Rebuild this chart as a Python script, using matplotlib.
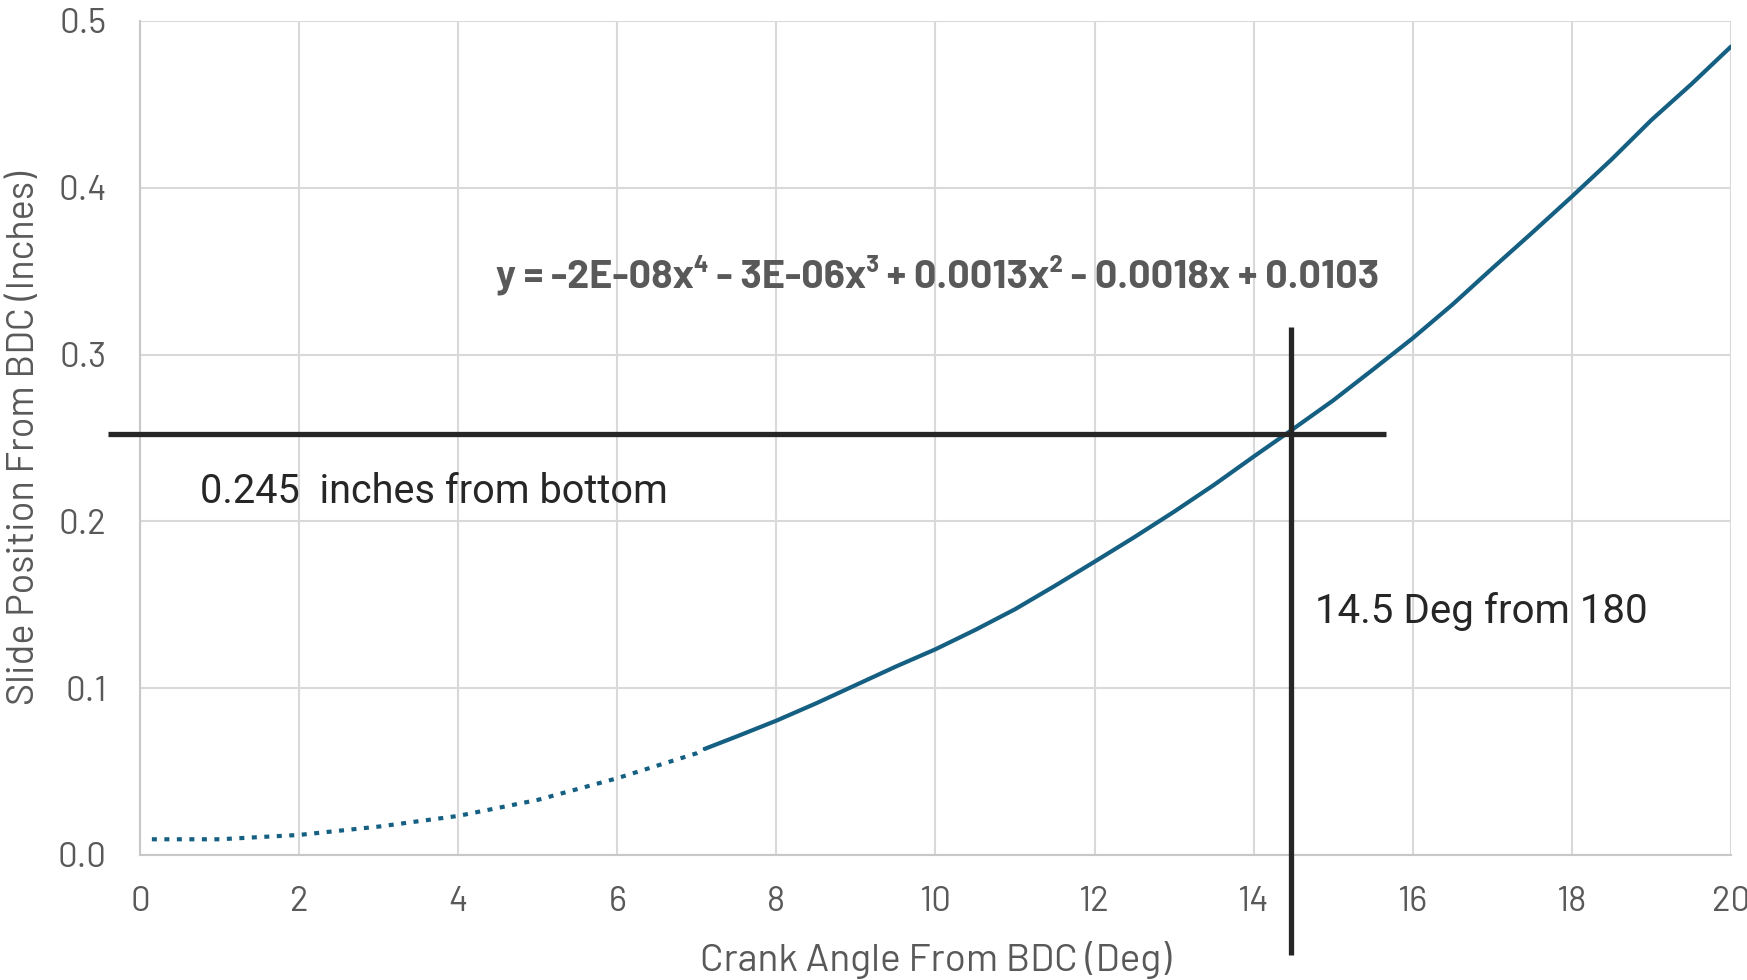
import matplotlib
matplotlib.use("Agg")
import matplotlib.pyplot as plt

# ---- data ----
trend_x = [0.15, 1, 2, 3, 4, 5, 6, 7, 7.1]
trend_y = [0.0094, 0.0094, 0.012, 0.017, 0.0234, 0.033, 0.046, 0.061, 0.0636]

data_x = [7.1, 7.5, 8, 8.5, 9, 9.5, 10, 10.5, 11, 11.5, 12, 12.5, 13, 13.5,
          14, 14.5, 15, 15.5, 16, 16.5, 17, 17.5, 18, 18.5, 19, 19.5, 20]
data_y = [0.0636, 0.071, 0.0805, 0.0909, 0.1019, 0.1129, 0.1233, 0.1349,
          0.1473, 0.1613, 0.1758, 0.1905, 0.2058, 0.2218, 0.2388, 0.2555,
          0.2725, 0.291, 0.3098, 0.330, 0.3517, 0.373, 0.3947, 0.417,
          0.4406, 0.462, 0.4846]

x_ticks = [0, 2, 4, 6, 8, 10, 12, 14, 16, 18, 20]
x_tick_labels = ["0", "2", "4", "6", "8", "10", "12", "14", "16", "18", "20"]
y_ticks = [0.0, 0.1, 0.2, 0.3, 0.4, 0.5]
y_tick_labels = ["0.0", "0.1", "0.2", "0.3", "0.4", "0.5"]

cross_x = 14.47
cross_y = 0.2524

equation = "y = -2E-08x\u2074 - 3E-06x\u00b3 + 0.0013x\u00b2 - 0.0018x + 0.0103"
note_y = "0.245  inches from bottom"
note_x = "14.5 Deg from 180"
xlabel = "Crank Angle From BDC (Deg)"
ylabel = "Slide Position From BDC (Inches)"

LINE_COLOR = "#156082"
GREY = "#595959"
DARK = "#262626"
NARROW = ["Barlow", "Barlow Semi Condensed", "Roboto Condensed", "DejaVu Sans"]
TEXTF = ["Roboto", "Lato", "DejaVu Sans"]

fig = plt.figure(figsize=(17.47, 9.8), dpi=100)
ax = fig.add_axes([0.0801, 0.1276, 0.9107, 0.851])

ax.plot(trend_x, trend_y, color=LINE_COLOR, lw=3, linestyle=(0, (1.2, 1.8)),
        solid_capstyle="butt", dash_capstyle="butt", zorder=3)
ax.plot(data_x, data_y, color=LINE_COLOR, lw=3, solid_capstyle="round", zorder=3)

ax.set_xlim(0, 20)
ax.set_ylim(0, 0.5)
ax.set_xticks(x_ticks)
ax.set_xticklabels(x_tick_labels)
ax.set_yticks(y_ticks)
ax.set_yticklabels(y_tick_labels)
ax.grid(True, color="#d9d9d9", lw=1.5, zorder=0)
ax.set_axisbelow(True)
for s in ["top", "right"]:
    ax.spines[s].set_visible(False)
for s in ["left", "bottom"]:
    ax.spines[s].set_color("#c8c8c8")
    ax.spines[s].set_linewidth(1.5)
ax.tick_params(length=0, labelsize=25, labelcolor=GREY)
ax.tick_params(axis="x", pad=22)
ax.tick_params(axis="y", pad=24)
for lab in ax.get_xticklabels() + ax.get_yticklabels():
    lab.set_fontfamily(NARROW)

ax.set_xlabel(xlabel, fontsize=28, color=GREY, family=NARROW, labelpad=17)
ax.set_ylabel(ylabel, fontsize=27.3, color=GREY, family=NARROW, labelpad=11)

# crosshair lines
ax.plot([-0.40, 15.67], [cross_y, cross_y], color=DARK, lw=3.8, clip_on=False,
        solid_capstyle="butt", zorder=4)
ax.plot([cross_x, cross_x], [0.3168, -0.06], color=DARK, lw=3.8, clip_on=False,
        solid_capstyle="butt", zorder=4)

ax.text(4.475, 0.3477, equation, fontsize=28.5, color=GREY, family=NARROW,
        fontweight="bold", va="center", ha="left")
ax.text(0.75, 0.218, note_y, fontsize=28.5, color=DARK, family=TEXTF,
        va="center", ha="left")
ax.text(14.77, 0.1457, note_x, fontsize=29, color=DARK, family=TEXTF,
        va="center", ha="left")

fig.savefig("out.png", dpi=100)
